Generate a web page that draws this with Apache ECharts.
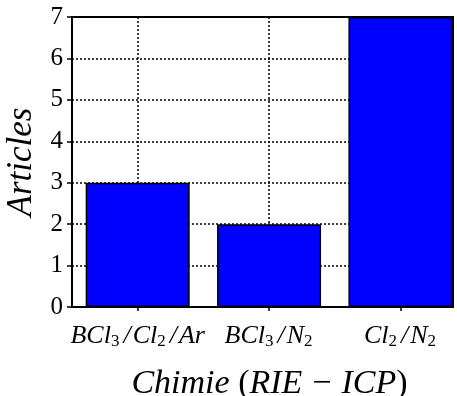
<!DOCTYPE html>
<html><head><meta charset="utf-8">
<script src="https://cdn.jsdelivr.net/npm/echarts@6/dist/echarts.min.js"></script>
<style>html,body{margin:0;padding:0;background:#fff}#c{width:457px;height:396px}</style>
</head><body><div id="c"></div>
<script>
const categories = ['BCl3/Cl2/Ar', 'BCl3/N2', 'Cl2/N2'];
const articles = [3, 2, 7];
const yTicks = [0, 1, 2, 3, 4, 5, 6, 7];
const xTitle = 'Chimie (RIE − ICP)';
const yTitle = 'Articles';

const FONT = 'Liberation Serif';
function richLabel(s) {
  return s.replace(/(\/)|([^0-9\/]+)|([0-9]+)/g, (m, sl, a, d) =>
    sl ? '{sl|/}' : a ? '{i|' + a + '}' : '{s|' + d + '}');
}
const chart = echarts.init(document.getElementById('c'), null, {renderer: 'canvas'});
chart.setOption({
  animation: false,
  backgroundColor: '#fff',
  grid: {left: 72, top: 17, right: 4, bottom: 89, containLabel: false, outerBoundsMode: 'none',
    show: true, borderColor: '#000', borderWidth: 2, backgroundColor: 'transparent'},
  xAxis: {
    type: 'value', min: -0.5, max: 2.4,
    axisLine: {show: true, onZero: false, lineStyle: {color: '#000', width: 2}},
    axisTick: {show: true, customValues: categories.map((c, i) => i), length: 4, lineStyle: {color: '#000', width: 1.5}},
    splitLine: {show: true, lineStyle: {color: '#000', type: [2, 2], width: 1.5}},
    axisLabel: {
      customValues: categories.map((c, i) => i), margin: 15,
      formatter: v => richLabel(categories[Math.round(v)]),
      rich: {
        i: {fontFamily: FONT, fontStyle: 'italic', fontSize: 26, color: '#000', lineHeight: 28},
        sl: {fontFamily: FONT, fontStyle: 'italic', fontSize: 26, color: '#000', lineHeight: 28, padding: [0, 2, 0, 3]},
        s: {fontFamily: FONT, fontSize: 17, color: '#000', lineHeight: 28, verticalAlign: 'bottom', padding: [11, 1, 0, 0]}
      }
    },
    name: '{i|Chimie }{n|(}{i|RIE}{m|−}{i|ICP}{n|)}', nameLocation: 'middle', nameGap: 60,
    nameTextStyle: {
      padding: [0, 0, 0, 14],
      rich: {
        i: {fontFamily: FONT, fontStyle: 'italic', fontSize: 34, color: '#000'},
        n: {fontFamily: FONT, fontSize: 34, color: '#000'},
        m: {fontFamily: FONT, fontSize: 34, color: '#000', padding: [0, 10, 0, 10]}
      }
    }
  },
  yAxis: {
    type: 'value', min: 0, max: 7, interval: 1,
    axisLine: {show: true, onZero: false, lineStyle: {color: '#000', width: 2}},
    axisTick: {show: true, length: 5, lineStyle: {color: '#000', width: 1.5}},
    splitLine: {show: true, lineStyle: {color: '#000', type: [2, 2], width: 1.5}},
    axisLabel: {margin: 9, fontFamily: FONT, fontSize: 25, color: '#000', formatter: v => String(v)},
    name: yTitle, nameLocation: 'middle', nameGap: 30, nameRotate: 90,
    nameTextStyle: {fontFamily: FONT, fontStyle: 'italic', fontSize: 35, color: '#000'}
  },
  series: [{
    type: 'bar',
    data: articles.map((v, i) => [i, v]),
    barWidth: 104,
    itemStyle: {color: '#0000ff', borderColor: '#000', borderWidth: 1.5},
    z: 3
  }]
});
</script></body></html>
